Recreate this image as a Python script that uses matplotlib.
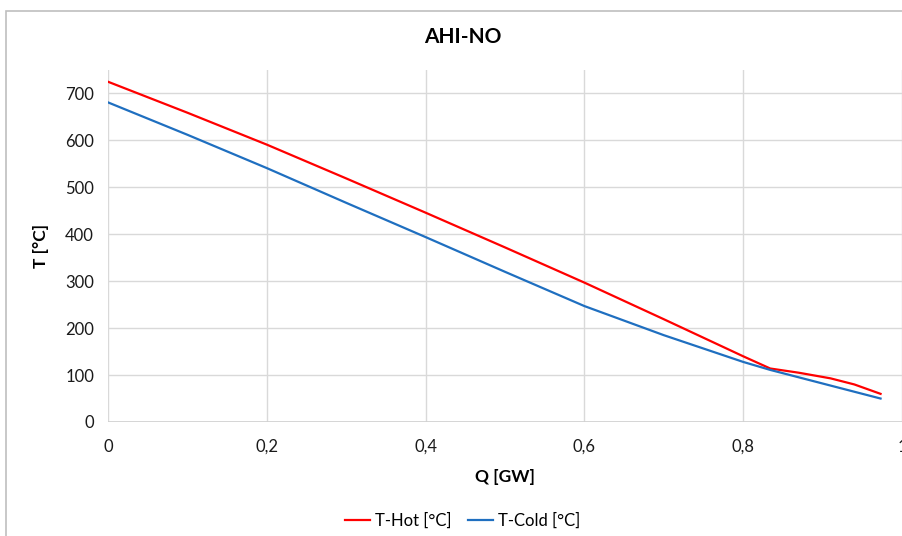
import matplotlib
matplotlib.use("Agg")
import matplotlib.pyplot as plt
from matplotlib.patches import Rectangle

q_hot = [0.0, 0.1, 0.2, 0.3, 0.4, 0.5, 0.6, 0.7, 0.8, 0.834, 0.87, 0.91, 0.94, 0.973]
t_hot = [725, 659, 591, 519, 446, 372, 297, 219, 140, 114, 105, 93, 80, 60]
q_cold = [0.0, 0.1, 0.2, 0.3, 0.4, 0.5, 0.6, 0.7, 0.8, 0.834, 0.9, 0.973]
t_cold = [681, 612, 541, 467, 394, 320, 247, 185, 128, 111, 82, 50]

x_ticks = [0, 0.2, 0.4, 0.6, 0.8, 1.0]
x_ticklabels = ["0", "0,2", "0,4", "0,6", "0,8", "1"]
y_ticks = [0, 100, 200, 300, 400, 500, 600, 700]

plt.rcParams['font.family'] = ['Lato', 'DejaVu Sans']

W, H = 903, 536
fig = plt.figure(figsize=(W / 100, H / 100), dpi=100)
ax = fig.add_axes([108 / W, 1 - 422 / H, (902 - 108) / W, (422 - 70) / H])

fig.patches.append(Rectangle((5.5 / W, -0.1), 1.2, 1.1 - 11 / H + 0.0,
                             transform=fig.transFigure, fill=False,
                             edgecolor='#bfbfbf', linewidth=1.2, zorder=0))

ax.plot(q_hot, t_hot, color='#ff0000', lw=1.6, label='T-Hot [°C]', zorder=3)
ax.plot(q_cold, t_cold, color='#1f6fc0', lw=1.6, label='T-Cold [°C]', zorder=3)

ax.set_xlim(0, 1)
ax.set_ylim(0, 750)
ax.set_xticks(x_ticks)
ax.set_xticklabels(x_ticklabels)
ax.set_yticks(y_ticks)
ax.grid(True, color='#d9d9d9', lw=1.0, zorder=0)
ax.set_axisbelow(True)
for s in ax.spines.values():
    s.set_visible(False)
ax.axhline(0, color='#d0d0d0', lw=1.2, zorder=1)
ax.tick_params(length=0, labelsize=12, colors='#1a1a1a', pad=10)
ax.tick_params(axis='x', pad=12)

ax.set_xlabel('Q [GW]', fontsize=12.5, fontweight='bold', labelpad=10)
ax.set_ylabel('T [°C]', fontsize=12.5, fontweight='bold', labelpad=12)

fig.text(463 / W, 1 - 37 / H, 'AHI-NO', fontsize=15, fontweight='bold',
         ha='center', va='center')

fig.legend(loc='center', bbox_to_anchor=(463 / W, 1 - 521 / H), ncol=2,
           frameon=False, fontsize=12, handlelength=1.5, handletextpad=0.3,
           columnspacing=1.0)

fig.savefig('out.png', dpi=100)
